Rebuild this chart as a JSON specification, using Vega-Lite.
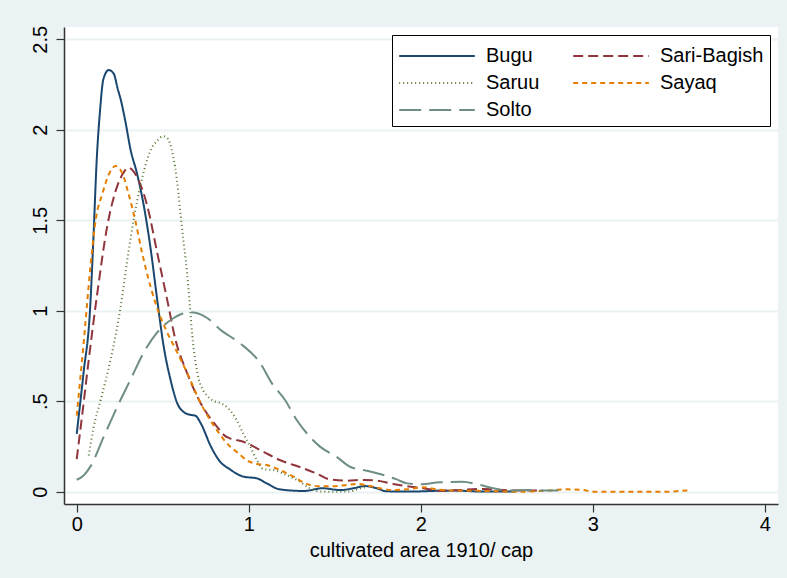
{
  "$schema": "https://vega.github.io/schema/vega-lite/v6.json",
  "width": 714,
  "height": 477,
  "autosize": {"type": "none"},
  "padding": {"left": 64, "top": 27, "right": 9, "bottom": 74},
  "background": "#EAF2F3",
  "config": {
    "view": {"fill": "white", "stroke": null},
    "font": "Liberation Sans",
    "axis": {
      "labelFont": "Liberation Sans",
      "titleFont": "Liberation Sans",
      "labelFontSize": 20,
      "titleFontSize": 20,
      "titleFontWeight": "normal",
      "labelColor": "black",
      "titleColor": "black",
      "domainColor": "#333333",
      "domainWidth": 1.5,
      "tickColor": "#333333",
      "tickWidth": 1.2,
      "tickSize": 8
    },
    "legend": {
      "labelFont": "Liberation Sans",
      "labelFontSize": 20,
      "labelColor": "black"
    }
  },
  "data": {
    "values": [
      {"tribe": "Bugu", "x": 0, "y": 0.32},
      {"tribe": "Bugu", "x": 0.04, "y": 0.66},
      {"tribe": "Bugu", "x": 0.077, "y": 1.0},
      {"tribe": "Bugu", "x": 0.097, "y": 1.4},
      {"tribe": "Bugu", "x": 0.116, "y": 1.83},
      {"tribe": "Bugu", "x": 0.135, "y": 2.1},
      {"tribe": "Bugu", "x": 0.155, "y": 2.28},
      {"tribe": "Bugu", "x": 0.186, "y": 2.33},
      {"tribe": "Bugu", "x": 0.215, "y": 2.31},
      {"tribe": "Bugu", "x": 0.24, "y": 2.22},
      {"tribe": "Bugu", "x": 0.255, "y": 2.17},
      {"tribe": "Bugu", "x": 0.284, "y": 2.04},
      {"tribe": "Bugu", "x": 0.313, "y": 1.89},
      {"tribe": "Bugu", "x": 0.35, "y": 1.76},
      {"tribe": "Bugu", "x": 0.39, "y": 1.58},
      {"tribe": "Bugu", "x": 0.43, "y": 1.34},
      {"tribe": "Bugu", "x": 0.468, "y": 1.06},
      {"tribe": "Bugu", "x": 0.506, "y": 0.8},
      {"tribe": "Bugu", "x": 0.545, "y": 0.62},
      {"tribe": "Bugu", "x": 0.584, "y": 0.49},
      {"tribe": "Bugu", "x": 0.622, "y": 0.44},
      {"tribe": "Bugu", "x": 0.66, "y": 0.425},
      {"tribe": "Bugu", "x": 0.69, "y": 0.42},
      {"tribe": "Bugu", "x": 0.72, "y": 0.38},
      {"tribe": "Bugu", "x": 0.78, "y": 0.25},
      {"tribe": "Bugu", "x": 0.83, "y": 0.17},
      {"tribe": "Bugu", "x": 0.89, "y": 0.124},
      {"tribe": "Bugu", "x": 0.97, "y": 0.083},
      {"tribe": "Bugu", "x": 1.047, "y": 0.074},
      {"tribe": "Bugu", "x": 1.105, "y": 0.046},
      {"tribe": "Bugu", "x": 1.18, "y": 0.013},
      {"tribe": "Bugu", "x": 1.32, "y": 0.004},
      {"tribe": "Bugu", "x": 1.43, "y": 0.019},
      {"tribe": "Bugu", "x": 1.53, "y": 0.009},
      {"tribe": "Bugu", "x": 1.61, "y": 0.019},
      {"tribe": "Bugu", "x": 1.676, "y": 0.031},
      {"tribe": "Bugu", "x": 1.744, "y": 0.019},
      {"tribe": "Bugu", "x": 1.8, "y": 0.002},
      {"tribe": "Bugu", "x": 1.95, "y": 0.001},
      {"tribe": "Bugu", "x": 2.1, "y": 0.005},
      {"tribe": "Bugu", "x": 2.2, "y": 0.006},
      {"tribe": "Bugu", "x": 2.35, "y": 0.001},
      {"tribe": "Bugu", "x": 2.55, "y": 0.001},

      {"tribe": "Sari-Bagish", "x": 0, "y": 0.18},
      {"tribe": "Sari-Bagish", "x": 0.035, "y": 0.45},
      {"tribe": "Sari-Bagish", "x": 0.07, "y": 0.73},
      {"tribe": "Sari-Bagish", "x": 0.12, "y": 1.1},
      {"tribe": "Sari-Bagish", "x": 0.178, "y": 1.47},
      {"tribe": "Sari-Bagish", "x": 0.236, "y": 1.69},
      {"tribe": "Sari-Bagish", "x": 0.27, "y": 1.76},
      {"tribe": "Sari-Bagish", "x": 0.3, "y": 1.79},
      {"tribe": "Sari-Bagish", "x": 0.33, "y": 1.77},
      {"tribe": "Sari-Bagish", "x": 0.36, "y": 1.72},
      {"tribe": "Sari-Bagish", "x": 0.41, "y": 1.58},
      {"tribe": "Sari-Bagish", "x": 0.468, "y": 1.32},
      {"tribe": "Sari-Bagish", "x": 0.526, "y": 1.06},
      {"tribe": "Sari-Bagish", "x": 0.574, "y": 0.84},
      {"tribe": "Sari-Bagish", "x": 0.64, "y": 0.66},
      {"tribe": "Sari-Bagish", "x": 0.72, "y": 0.49},
      {"tribe": "Sari-Bagish", "x": 0.815, "y": 0.36},
      {"tribe": "Sari-Bagish", "x": 0.86, "y": 0.31},
      {"tribe": "Sari-Bagish", "x": 0.89, "y": 0.295},
      {"tribe": "Sari-Bagish", "x": 0.969, "y": 0.276},
      {"tribe": "Sari-Bagish", "x": 1.085, "y": 0.221},
      {"tribe": "Sari-Bagish", "x": 1.18, "y": 0.175},
      {"tribe": "Sari-Bagish", "x": 1.3, "y": 0.135},
      {"tribe": "Sari-Bagish", "x": 1.395, "y": 0.1},
      {"tribe": "Sari-Bagish", "x": 1.47, "y": 0.068},
      {"tribe": "Sari-Bagish", "x": 1.57, "y": 0.061},
      {"tribe": "Sari-Bagish", "x": 1.666, "y": 0.065},
      {"tribe": "Sari-Bagish", "x": 1.744, "y": 0.061},
      {"tribe": "Sari-Bagish", "x": 1.84, "y": 0.043},
      {"tribe": "Sari-Bagish", "x": 1.92, "y": 0.031},
      {"tribe": "Sari-Bagish", "x": 2.015, "y": 0.019},
      {"tribe": "Sari-Bagish", "x": 2.11, "y": 0.005},
      {"tribe": "Sari-Bagish", "x": 2.2, "y": 0.008},
      {"tribe": "Sari-Bagish", "x": 2.36, "y": 0.015},
      {"tribe": "Sari-Bagish", "x": 2.5, "y": 0.008},
      {"tribe": "Sari-Bagish", "x": 2.6, "y": 0.006},
      {"tribe": "Sari-Bagish", "x": 2.71, "y": 0.007},

      {"tribe": "Saruu", "x": 0.07, "y": 0.2},
      {"tribe": "Saruu", "x": 0.097, "y": 0.35},
      {"tribe": "Saruu", "x": 0.14, "y": 0.51},
      {"tribe": "Saruu", "x": 0.197, "y": 0.73},
      {"tribe": "Saruu", "x": 0.255, "y": 1.02},
      {"tribe": "Saruu", "x": 0.294, "y": 1.28},
      {"tribe": "Saruu", "x": 0.33, "y": 1.5},
      {"tribe": "Saruu", "x": 0.37, "y": 1.69},
      {"tribe": "Saruu", "x": 0.426, "y": 1.88},
      {"tribe": "Saruu", "x": 0.468, "y": 1.94},
      {"tribe": "Saruu", "x": 0.503, "y": 1.965},
      {"tribe": "Saruu", "x": 0.53, "y": 1.95},
      {"tribe": "Saruu", "x": 0.552, "y": 1.89},
      {"tribe": "Saruu", "x": 0.571, "y": 1.8},
      {"tribe": "Saruu", "x": 0.591, "y": 1.65},
      {"tribe": "Saruu", "x": 0.605, "y": 1.52},
      {"tribe": "Saruu", "x": 0.62, "y": 1.39},
      {"tribe": "Saruu", "x": 0.634, "y": 1.28},
      {"tribe": "Saruu", "x": 0.649, "y": 1.13},
      {"tribe": "Saruu", "x": 0.66, "y": 1.0},
      {"tribe": "Saruu", "x": 0.672, "y": 0.86},
      {"tribe": "Saruu", "x": 0.69, "y": 0.72},
      {"tribe": "Saruu", "x": 0.71, "y": 0.62},
      {"tribe": "Saruu", "x": 0.735, "y": 0.56},
      {"tribe": "Saruu", "x": 0.758, "y": 0.53},
      {"tribe": "Saruu", "x": 0.8, "y": 0.5},
      {"tribe": "Saruu", "x": 0.835, "y": 0.49},
      {"tribe": "Saruu", "x": 0.87, "y": 0.47},
      {"tribe": "Saruu", "x": 0.891, "y": 0.45},
      {"tribe": "Saruu", "x": 0.93, "y": 0.396},
      {"tribe": "Saruu", "x": 0.969, "y": 0.32},
      {"tribe": "Saruu", "x": 1.008, "y": 0.25},
      {"tribe": "Saruu", "x": 1.047, "y": 0.175},
      {"tribe": "Saruu", "x": 1.085, "y": 0.124},
      {"tribe": "Saruu", "x": 1.143, "y": 0.12},
      {"tribe": "Saruu", "x": 1.2, "y": 0.1},
      {"tribe": "Saruu", "x": 1.28, "y": 0.065},
      {"tribe": "Saruu", "x": 1.356, "y": 0.019},
      {"tribe": "Saruu", "x": 1.41, "y": 0.002},
      {"tribe": "Saruu", "x": 1.5, "y": 0.0},
      {"tribe": "Saruu", "x": 1.59, "y": 0.002},
      {"tribe": "Saruu", "x": 1.65, "y": 0.019},
      {"tribe": "Saruu", "x": 1.69, "y": 0.028},

      {"tribe": "Sayaq", "x": 0, "y": 0.42},
      {"tribe": "Sayaq", "x": 0.04, "y": 0.82},
      {"tribe": "Sayaq", "x": 0.08, "y": 1.245},
      {"tribe": "Sayaq", "x": 0.11, "y": 1.5},
      {"tribe": "Sayaq", "x": 0.15, "y": 1.65},
      {"tribe": "Sayaq", "x": 0.19, "y": 1.76},
      {"tribe": "Sayaq", "x": 0.226, "y": 1.8},
      {"tribe": "Sayaq", "x": 0.265, "y": 1.76},
      {"tribe": "Sayaq", "x": 0.3, "y": 1.65},
      {"tribe": "Sayaq", "x": 0.34, "y": 1.5},
      {"tribe": "Sayaq", "x": 0.38, "y": 1.32},
      {"tribe": "Sayaq", "x": 0.43, "y": 1.13},
      {"tribe": "Sayaq", "x": 0.477, "y": 0.99},
      {"tribe": "Sayaq", "x": 0.526, "y": 0.88},
      {"tribe": "Sayaq", "x": 0.584, "y": 0.77},
      {"tribe": "Sayaq", "x": 0.64, "y": 0.66},
      {"tribe": "Sayaq", "x": 0.72, "y": 0.49},
      {"tribe": "Sayaq", "x": 0.815, "y": 0.34},
      {"tribe": "Sayaq", "x": 0.891, "y": 0.25},
      {"tribe": "Sayaq", "x": 0.93, "y": 0.22},
      {"tribe": "Sayaq", "x": 0.988, "y": 0.175},
      {"tribe": "Sayaq", "x": 1.047, "y": 0.153},
      {"tribe": "Sayaq", "x": 1.105, "y": 0.147},
      {"tribe": "Sayaq", "x": 1.18, "y": 0.12},
      {"tribe": "Sayaq", "x": 1.26, "y": 0.083},
      {"tribe": "Sayaq", "x": 1.337, "y": 0.043},
      {"tribe": "Sayaq", "x": 1.415, "y": 0.03},
      {"tribe": "Sayaq", "x": 1.49, "y": 0.03},
      {"tribe": "Sayaq", "x": 1.57, "y": 0.037},
      {"tribe": "Sayaq", "x": 1.628, "y": 0.043},
      {"tribe": "Sayaq", "x": 1.705, "y": 0.031},
      {"tribe": "Sayaq", "x": 1.763, "y": 0.019},
      {"tribe": "Sayaq", "x": 1.84, "y": 0.009},
      {"tribe": "Sayaq", "x": 1.92, "y": 0.013},
      {"tribe": "Sayaq", "x": 2.015, "y": 0.024},
      {"tribe": "Sayaq", "x": 2.1, "y": 0.012},
      {"tribe": "Sayaq", "x": 2.19, "y": 0.006},
      {"tribe": "Sayaq", "x": 2.38, "y": 0.004},
      {"tribe": "Sayaq", "x": 2.58, "y": 0.0},
      {"tribe": "Sayaq", "x": 2.73, "y": 0.006},
      {"tribe": "Sayaq", "x": 2.85, "y": 0.013},
      {"tribe": "Sayaq", "x": 2.945, "y": 0.009},
      {"tribe": "Sayaq", "x": 3.0, "y": 0.0},
      {"tribe": "Sayaq", "x": 3.2, "y": 0.0},
      {"tribe": "Sayaq", "x": 3.45, "y": 0.0},
      {"tribe": "Sayaq", "x": 3.507, "y": 0.004},
      {"tribe": "Sayaq", "x": 3.55, "y": 0.006},

      {"tribe": "Solto", "x": 0, "y": 0.066},
      {"tribe": "Solto", "x": 0.04, "y": 0.09},
      {"tribe": "Solto", "x": 0.08, "y": 0.14},
      {"tribe": "Solto", "x": 0.16, "y": 0.31},
      {"tribe": "Solto", "x": 0.236, "y": 0.47},
      {"tribe": "Solto", "x": 0.313, "y": 0.62},
      {"tribe": "Solto", "x": 0.39, "y": 0.77},
      {"tribe": "Solto", "x": 0.468, "y": 0.88},
      {"tribe": "Solto", "x": 0.564, "y": 0.96},
      {"tribe": "Solto", "x": 0.62, "y": 0.985},
      {"tribe": "Solto", "x": 0.68, "y": 0.99},
      {"tribe": "Solto", "x": 0.72, "y": 0.98},
      {"tribe": "Solto", "x": 0.758, "y": 0.96},
      {"tribe": "Solto", "x": 0.835, "y": 0.895},
      {"tribe": "Solto", "x": 0.95, "y": 0.82},
      {"tribe": "Solto", "x": 1.067, "y": 0.71},
      {"tribe": "Solto", "x": 1.134, "y": 0.6},
      {"tribe": "Solto", "x": 1.211, "y": 0.507},
      {"tribe": "Solto", "x": 1.279, "y": 0.396},
      {"tribe": "Solto", "x": 1.337, "y": 0.323},
      {"tribe": "Solto", "x": 1.414, "y": 0.249},
      {"tribe": "Solto", "x": 1.51, "y": 0.193},
      {"tribe": "Solto", "x": 1.589, "y": 0.138},
      {"tribe": "Solto", "x": 1.686, "y": 0.116},
      {"tribe": "Solto", "x": 1.783, "y": 0.092},
      {"tribe": "Solto", "x": 1.86, "y": 0.068},
      {"tribe": "Solto", "x": 1.92, "y": 0.046},
      {"tribe": "Solto", "x": 2.0, "y": 0.041},
      {"tribe": "Solto", "x": 2.11, "y": 0.052},
      {"tribe": "Solto", "x": 2.24, "y": 0.055},
      {"tribe": "Solto", "x": 2.345, "y": 0.037},
      {"tribe": "Solto", "x": 2.42, "y": 0.019},
      {"tribe": "Solto", "x": 2.52, "y": 0.006},
      {"tribe": "Solto", "x": 2.616, "y": 0.009},
      {"tribe": "Solto", "x": 2.713, "y": 0.006},
      {"tribe": "Solto", "x": 2.8, "y": 0.006}
    ]
  },
  "mark": {"type": "line", "interpolate": "monotone", "strokeWidth": 2},
  "encoding": {
    "x": {
      "field": "x",
      "type": "quantitative",
      "scale": {"domain": [-0.074, 4.077], "nice": false, "zero": false},
      "axis": {
        "title": "cultivated area 1910/ cap",
        "values": [0, 1, 2, 3, 4],
        "format": "~g",
        "grid": false,
        "labelPadding": 2,
        "titlePadding": 6
      }
    },
    "y": {
      "field": "y",
      "type": "quantitative",
      "scale": {"domain": [-0.068, 2.568], "nice": false, "zero": false},
      "axis": {
        "title": null,
        "values": [0, 0.5, 1, 1.5, 2, 2.5],
        "labelExpr": "datum.value == 0.5 ? '.5' : format(datum.value, '~g')",
        "labelAngle": -90,
        "labelAlign": "center",
        "labelBaseline": "bottom",
        "labelPadding": 6,
        "grid": true,
        "gridColor": "#EAF2F3",
        "gridWidth": 2
      }
    },
    "color": {
      "field": "tribe",
      "type": "nominal",
      "scale": {
        "domain": ["Bugu", "Saruu", "Solto", "Sari-Bagish", "Sayaq"],
        "range": ["#1A476F", "#55752F", "#6E8E84", "#90353B", "#E37E00"]
      },
      "legend": {
        "title": null,
        "orient": "none",
        "legendX": 328,
        "legendY": 8,
        "columns": 2,
        "symbolType": "M-2.7,0H2.7",
        "symbolSize": 784,
        "symbolStrokeWidth": 2,
        "symbolOffset": 24,
        "labelOffset": 34,
        "columnPadding": 29,
        "rowPadding": 2,
        "padding": 6,
        "fillColor": "white",
        "strokeColor": "black"
      }
    },
    "strokeDash": {
      "field": "tribe",
      "type": "nominal",
      "scale": {
        "domain": ["Bugu", "Saruu", "Solto", "Sari-Bagish", "Sayaq"],
        "range": [[1, 0], [1, 3], [22, 8], [10, 5], [5, 4]]
      },
      "legend": null
    }
  }
}
